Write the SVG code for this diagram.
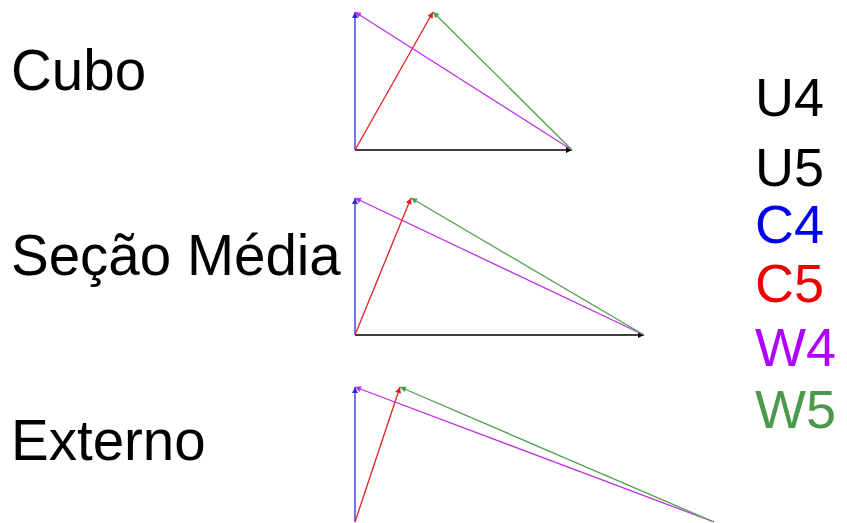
<svg xmlns="http://www.w3.org/2000/svg" width="847" height="523" viewBox="0 0 847 523">
<style>
text{font-family:"Liberation Sans",Arial,sans-serif;font-size:54px}
.t{font-size:56.5px}
.l{fill:none;stroke-width:1.3}
.k{stroke:#000}.b{stroke:#2a2ae0}.r{stroke:#e02020}.p{stroke:#c030e8}.g{stroke:#4fa04f}
</style>
<defs>
<marker id="mk" viewBox="0 0 10 10" refX="10" refY="5" markerWidth="9" markerHeight="6" markerUnits="userSpaceOnUse" orient="auto"><path d="M0,0L10,5L0,10z" fill="#000"/></marker>
<marker id="mb" viewBox="0 0 10 10" refX="10" refY="5" markerWidth="9" markerHeight="6" markerUnits="userSpaceOnUse" orient="auto"><path d="M0,0L10,5L0,10z" fill="#2a2ae0"/></marker>
<marker id="mr" viewBox="0 0 10 10" refX="10" refY="5" markerWidth="9" markerHeight="6" markerUnits="userSpaceOnUse" orient="auto"><path d="M0,0L10,5L0,10z" fill="#e02020"/></marker>
<marker id="mp" viewBox="0 0 10 10" refX="10" refY="5" markerWidth="9" markerHeight="6" markerUnits="userSpaceOnUse" orient="auto"><path d="M0,0L10,5L0,10z" fill="#c030e8"/></marker>
<marker id="mg" viewBox="0 0 10 10" refX="10" refY="5" markerWidth="9" markerHeight="6" markerUnits="userSpaceOnUse" orient="auto"><path d="M0,0L10,5L0,10z" fill="#4fa04f"/></marker>
</defs>
<g id="labels">
<text class="t" x="11" y="90">Cubo</text>
<text class="t" x="11" y="275">Seção Média</text>
<text class="t" x="11" y="460">Externo</text>
</g>
<g id="legend">
<text x="755" y="116">U4</text>
<text x="755" y="186">U5</text>
<text x="755" y="243" fill="#0000ee">C4</text>
<text x="755" y="302" fill="#ee0000">C5</text>
<text x="755" y="366" fill="#b000ff">W4</text>
<text x="755" y="428" fill="#4a9a4a">W5</text>
</g>
<g id="connectors">
<g id="cubo">
<line class="l k" x1="355" y1="150" x2="572" y2="150" marker-end="url(#mk)"/>
<line class="l b" x1="355" y1="150" x2="355" y2="12" marker-end="url(#mb)"/>
<line class="l r" x1="355" y1="150" x2="433" y2="12" marker-end="url(#mr)"/>
<line class="l p" x1="572" y1="150" x2="355" y2="12" marker-end="url(#mp)"/>
<line class="l g" x1="572" y1="150" x2="433" y2="12" marker-end="url(#mg)"/>
</g>
<g id="secao">
<line class="l k" x1="355" y1="335" x2="644" y2="335" marker-end="url(#mk)"/>
<line class="l b" x1="355" y1="335" x2="355" y2="198" marker-end="url(#mb)"/>
<line class="l r" x1="355" y1="335" x2="411" y2="198" marker-end="url(#mr)"/>
<line class="l p" x1="644" y1="335" x2="355" y2="198" marker-end="url(#mp)"/>
<line class="l g" x1="644" y1="335" x2="411" y2="198" marker-end="url(#mg)"/>
</g>
<g id="externo">
<line class="l b" x1="355" y1="522" x2="355" y2="387" marker-end="url(#mb)"/>
<line class="l r" x1="355" y1="522" x2="400" y2="387" marker-end="url(#mr)"/>
<line class="l p" x1="714" y1="522" x2="355" y2="387" marker-end="url(#mp)"/>
<line class="l g" x1="714" y1="522" x2="400" y2="387" marker-end="url(#mg)"/>
</g>
</g>
</svg>
